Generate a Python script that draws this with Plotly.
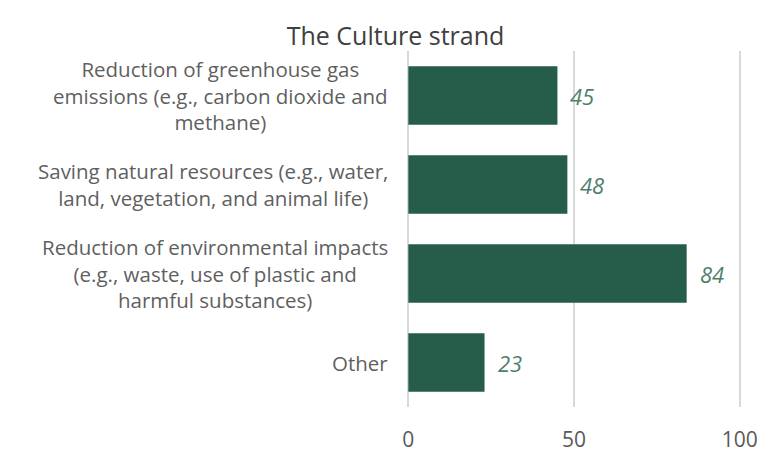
import plotly.graph_objects as go

categories = [
    "Reduction of greenhouse gas<br>emissions (e.g., carbon dioxide and<br>methane)",
    "Saving natural resources (e.g., water,<br>land, vegetation, and animal life)",
    "Reduction of environmental impacts<br>(e.g., waste, use of plastic and<br>harmful substances)",
    "Other",
]
values = [45, 48, 84, 23]
tick_vals = [0, 50, 100]
title_text = "The Culture strand"

bar_color = "#265C4A"
label_color = "#4F7F6B"
font_family = "Open Sans"

fig = go.Figure()
fig.add_trace(go.Bar(
    x=values,
    y=categories,
    orientation="h",
    marker=dict(color=bar_color, line=dict(width=0)),
    width=0.66,
    hoverinfo="skip",
))

for c, v in zip(categories, values):
    fig.add_annotation(
        x=-0.05, xref="paper", y=c, yref="y",
        text=c, showarrow=False, xanchor="right", yanchor="middle",
        align="center",
        font=dict(family=font_family, size=20.5, color="#5F5F5F"),
    )
    fig.add_annotation(
        x=v, xref="x", y=c, yref="y", text=str(v), showarrow=False,
        xanchor="left", yanchor="middle", xshift=11,
        font=dict(family=font_family, size=22, color=label_color, style="italic"),
    )

fig.update_layout(
    width=775, height=464,
    margin=dict(l=399, r=42, t=43, b=65),
    paper_bgcolor="white", plot_bgcolor="white",
    showlegend=False,
    title=dict(text=title_text, x=0.5, xanchor="center", y=0.94, yanchor="middle",
               font=dict(family=font_family, size=25, color="#404040")),
    xaxis=dict(range=[-0.4, 100.4], tickvals=tick_vals, showgrid=True, gridcolor="#D9D9D9",
               gridwidth=1.5, zeroline=False, showline=False,
               tickfont=dict(family=font_family, size=21, color="#595959"),
               ticks="", ticklabelstandoff=18),
    yaxis=dict(autorange="reversed", showticklabels=False, showgrid=False,
               zeroline=False, showline=False),
    bargap=0.34,
)

fig.write_html("out.html")
